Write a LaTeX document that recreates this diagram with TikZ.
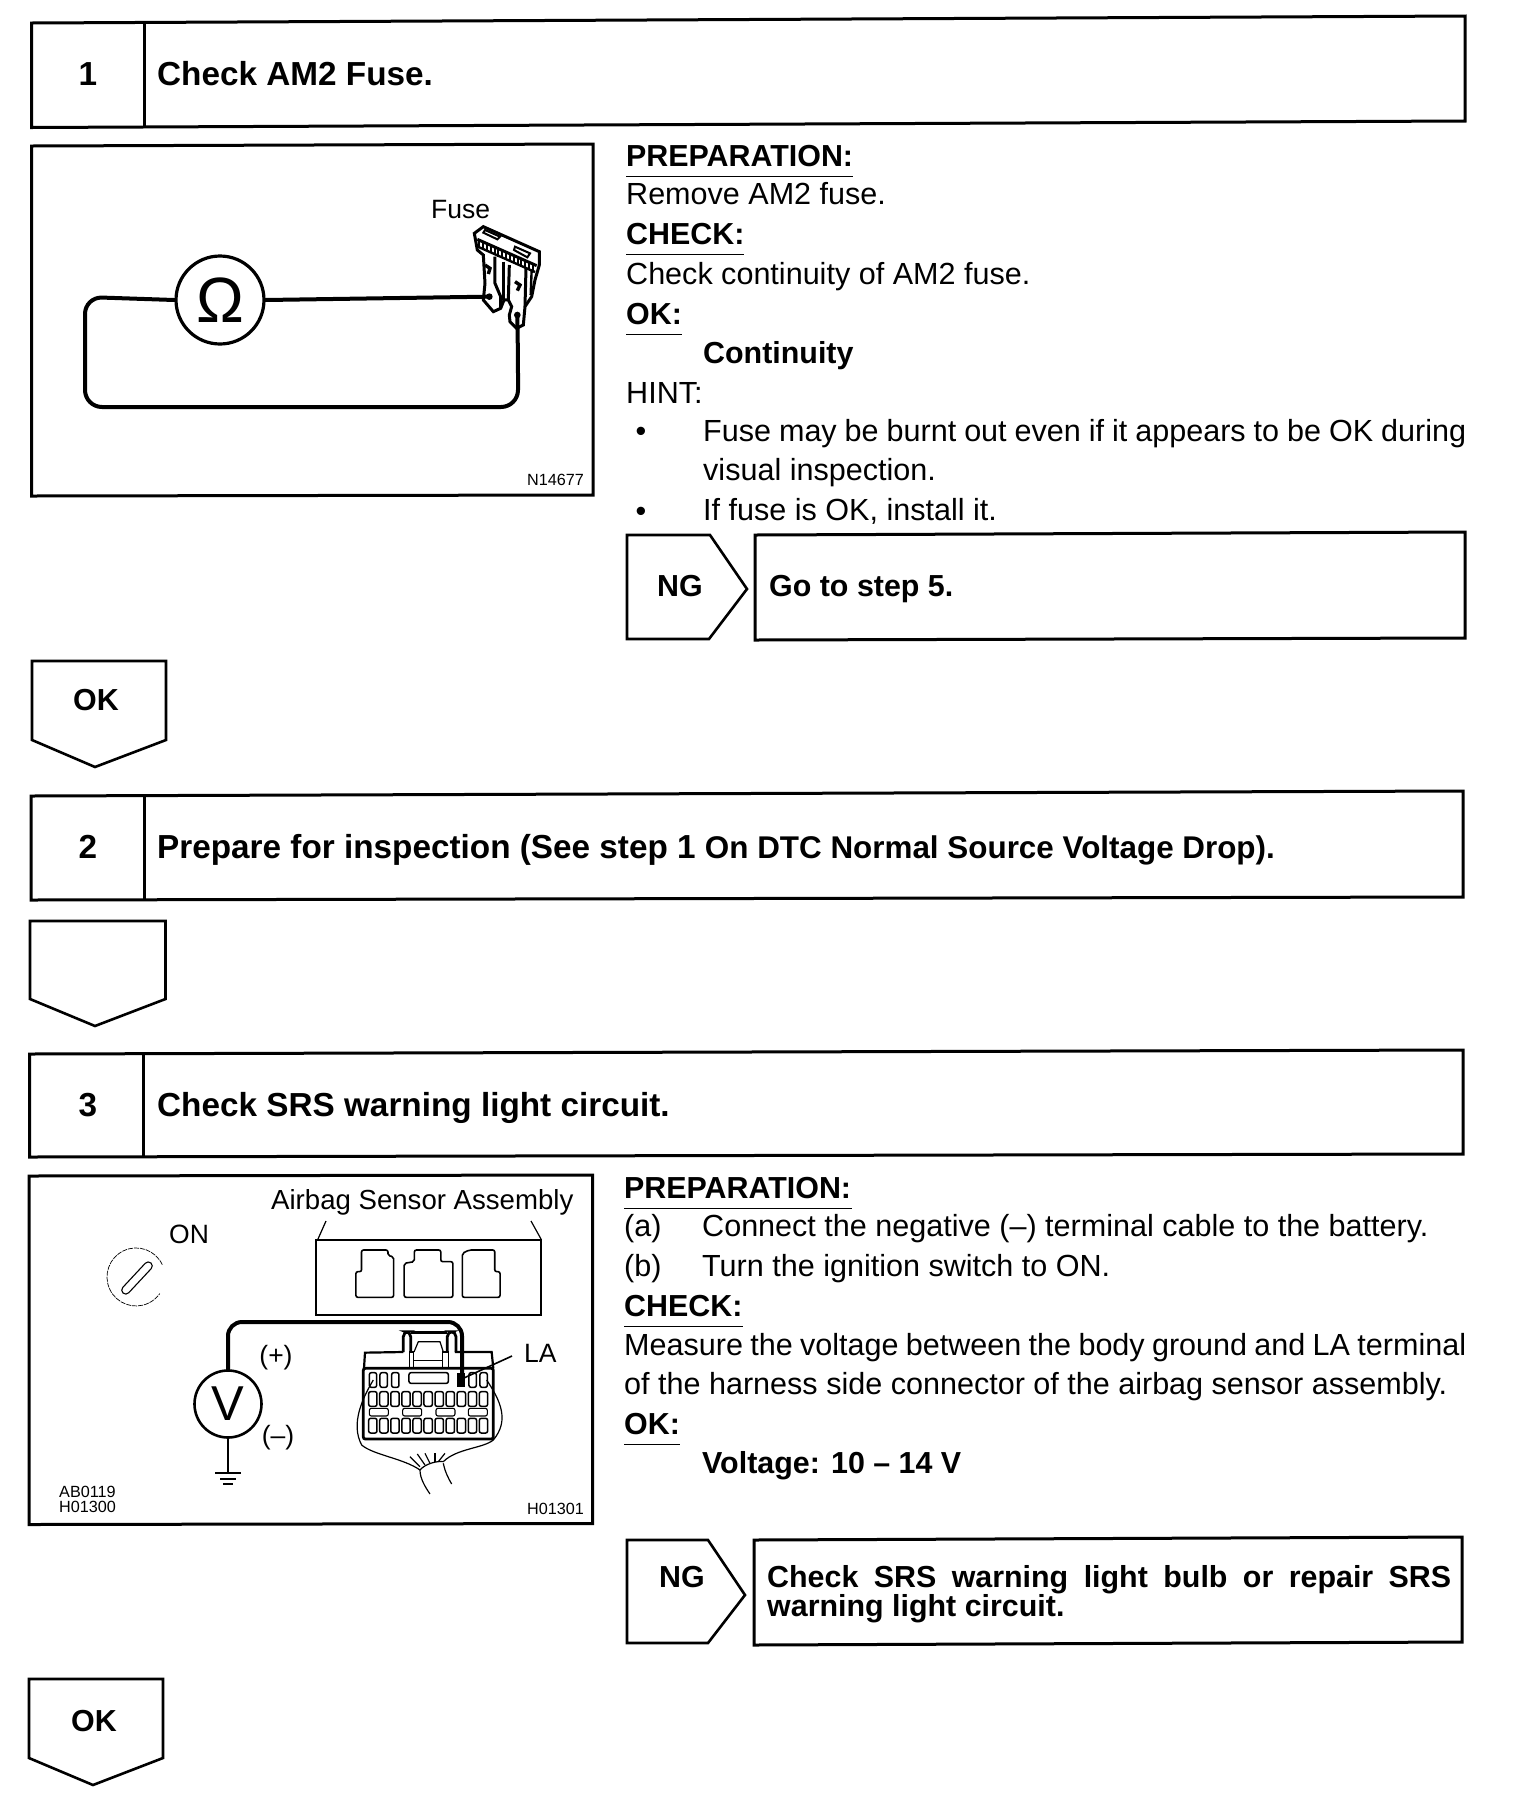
\documentclass[tikz,border=0pt]{standalone}
\usepackage{fontspec}
\setmainfont{Liberation Sans}
\begin{document}
\begin{tikzpicture}[x=1pt, y=-1pt, line join=miter,
  every node/.style={inner sep=0pt, anchor=base west, text=black},
  bodytext/.style={font=\fontsize{30.55}{39.5}\selectfont},
  boldtext/.style={font=\fontsize{30.4}{39.5}\selectfont\bfseries},
  headtext/.style={font=\fontsize{33.3}{40}\selectfont\bfseries},
  smalltext/.style={font=\fontsize{16.2}{15}\selectfont},
  figtext/.style={font=\fontsize{26.5}{30}\selectfont},
  frame/.style={draw, line width=3pt},
  tagbox/.style={draw, line width=2.6pt},
  wire/.style={draw, line width=4pt, line cap=round},
  thinline/.style={draw, line width=1.2pt},
  cell/.style={draw, line width=1.5pt, rounded corners=2pt}]
  \useasboundingbox (0,0) rectangle (1520,1808);
  % step 1
  \draw[frame] (31.5,23) -- (1465,16) -- (1465,121) -- (31.5,127.5) -- cycle;
  \draw[frame] (144,22.5) -- (144,127);
  \node[headtext, anchor=base] (num1) at (88,85) {1};
  \node[headtext] (head1) at (157,85) {Check AM2 Fuse.};
  % figure of step 1
  \draw[frame] (31.5,146) -- (593,144) -- (593,495) -- (31.5,496) -- cycle;
  \node[circle, draw, line width=3.2pt, minimum size=88pt, anchor=center,
    font=\fontsize{64}{64}\selectfont] (ohm) at (220,300) {Ω};
  \node[figtext] (fuselab) at (431,218) {Fuse};
  \node[smalltext] (fig1id) at (527,485) {N14677};
  \begin{scope}[shift={(440,200)}, x=0.3333pt, y=-0.3333pt]
    \coordinate (fusea) at (148,290);
    \coordinate (fuseb) at (232,345);
    \draw[line width=3pt, fill=white] (103,100) -- (130,80) -- (298,155) -- (298,195)
      -- (285,240) -- (275,290) -- (255,320) -- (250,375) -- (230,385) -- (210,365)
      -- (208,345) -- (215,320) -- (205,300) -- (192,300) -- (182,325) -- (160,335)
      -- (130,300) -- (135,250) -- (130,165) -- (112,150) -- cycle;
    \draw[line width=3pt] (112,118) -- (290,197);
    \draw[line width=2.4pt] (118,142) -- (285,216);
    \foreach \i in {0,...,14} {
      \draw[line width=2pt] (118+11.5*\i,122+5.1*\i) -- (118+11.5*\i,144+5.1*\i);
    }
    \draw[line width=2pt] (135,90) -- (180,110) -- (172,118) -- (130,98) -- cycle;
    \draw[line width=2pt] (225,140) -- (270,160) -- (262,172) -- (222,150) -- cycle;
    \draw[line width=3pt] (165,170) -- (165,250) -- (182,290) -- (182,325);
    \draw[line width=3pt] (192,185) -- (192,300);
    \draw[line width=3pt] (208,195) -- (205,300);
    \draw[line width=3pt] (258,205) -- (255,320);
    \draw[line width=2.4pt] (275,210) -- (272,285);
    \draw[line width=3.4pt] (135,195) -- (150,205) -- (145,222);
    \draw[line width=3.4pt] (225,245) -- (240,255) -- (232,272);
    \fill (fusea) circle (10);
    \fill (fuseb) circle (10);
  \end{scope}
  \draw[wire] (ohm.east) -- (fusea);
  \draw[wire, rounded corners=17pt] (ohm.west) -- (85,297) -- (85,407) -- (518,407) -- (518,360) -- (fuseb);
  % text of step 1
  \node[boldtext] (prep1) at (626,166) {PREPARATION:};
  \node[bodytext] (rem1) at (626,204) {Remove AM2 fuse.};
  \node[boldtext] (chk1) at (626,244) {CHECK:};
  \node[bodytext] (chktxt1) at (626,284) {Check continuity of AM2 fuse.};
  \node[boldtext] (ok1) at (626,324) {OK:};
  \node[boldtext] (cont1) at (703,363) {Continuity};
  \node[bodytext] (hint1) at (626,403) {HINT:};
  \node[bodytext, anchor=base] (bul1) at (641,441) {•};
  \node[bodytext, anchor=base] (bul2) at (641,521) {•};
  \node[bodytext, text width=763pt, align=justify, anchor=north west] (hinta) at (703,419)
    {Fuse may be burnt out even if it appears to be OK during visual inspection.};
  \node[bodytext] (hintb) at (703,520) {If fuse is OK, install it.};
  \draw[line width=1pt] (prep1.base west) ++(0,10) -- ++(227,0);
  \draw[line width=1pt] (chk1.base west) ++(0,10) -- ++(118,0);
  \draw[line width=1pt] (ok1.base west) ++(0,10) -- ++(56,0);
  % NG of step 1
  \draw[tagbox] (627,535) -- (710,535) -- (747,589) -- (709,639) -- (627,639) -- cycle;
  \node[boldtext] (ng1) at (657,596) {NG};
  \draw[frame] (755,535) -- (1465,532) -- (1465,638) -- (755,640) -- cycle;
  \node[boldtext] (goto1) at (769,596) {Go to step 5.};
  % OK of step 1
  \draw[tagbox] (32,661) -- (166,661) -- (166,740) -- (95,767) -- (32,740) -- cycle;
  \node[boldtext] (oktag1) at (73,710) {OK};
  % step 2
  \draw[frame] (31,796) -- (1463,791) -- (1463,897) -- (31,900) -- cycle;
  \draw[frame] (144,796) -- (144,900);
  \node[headtext, anchor=base] (num2) at (88,858) {2};
  \node[headtext] (head2) at (157,858) {Prepare for inspection (See step 1
    {\fontsize{31.4}{40}\selectfont On DTC Normal Source Voltage Drop).}};
  \draw[tagbox] (30,921) -- (165.5,921) -- (165.5,999) -- (95,1026) -- (30,999) -- cycle;
  % step 3
  \draw[frame] (29.5,1054) -- (1463,1050) -- (1463,1154) -- (29.5,1157) -- cycle;
  \draw[frame] (143,1054) -- (143,1157);
  \node[headtext, anchor=base] (num3) at (88,1116) {3};
  \node[headtext] (head3) at (157,1116) {Check SRS warning light circuit.};
  % figure of step 3
  \draw[frame] (29,1176) -- (592.5,1175) -- (592.5,1523.5) -- (29,1524.5) -- cycle;
  \node[figtext, font=\fontsize{27.6}{30}\selectfont] (assy) at (271,1209) {Airbag Sensor Assembly};
  \node[figtext] (on) at (169,1243) {ON};
  \node[figtext] (la) at (524,1362) {LA};
  \node[figtext, anchor=base] (plus) at (276,1364) {(+)};
  \node[figtext, anchor=base] (minus) at (278,1444) {(–)};
  \node[smalltext, align=left, anchor=north west] (fig3ida) at (59,1486) {AB0119\\H01300};
  \node[smalltext] (fig3idb) at (527,1514) {H01301};
  \node[draw, line width=1.1pt, rounded corners=4pt, minimum width=41pt, minimum height=8pt,
    rotate=47, anchor=center] (keyslot) at (137,1278) {};
  \draw[line width=0.7pt, dash pattern=on 5pt off 1pt] (162.3,1264.7) arc[start angle=25, delta angle=300, radius=29pt];
  \draw[thinline, line width=1.6pt] (316,1240) rectangle (541,1315);
  \draw[thinline] (318,1239) -- (326,1221);
  \draw[thinline] (541,1239) -- (531,1221);
  \begin{scope}[shift={(20,1165)}, x=0.3774pt, y=-0.3333pt]
    \draw[line width=1.6pt, rounded corners=2pt] (890,397) -- (890,320) -- (905,320) -- (905,255)
      -- (975,255) -- (975,272) -- (990,275) -- (990,397) -- cycle;
    \draw[line width=1.6pt, rounded corners=2pt] (1018,397) -- (1018,295) -- (1045,290) -- (1045,255)
      -- (1115,255) -- (1115,290) -- (1147,290) -- (1147,397) -- cycle;
    \draw[line width=1.6pt, rounded corners=2pt] (1172,397) -- (1172,265) -- (1190,255) -- (1258,255)
      -- (1258,320) -- (1272,320) -- (1272,397) -- cycle;
  \end{scope}
  \node[circle, draw, line width=2.6pt, minimum size=67pt, anchor=center,
    font=\fontsize{49}{49}\selectfont] (vm) at (228,1404) {V};
  \coordinate (gnd) at (228,1473);
  \draw[line width=2.6pt] (vm.south) -- (gnd);
  \draw[line width=2.2pt] (215,1473) -- (241,1473);
  \draw[line width=1.6pt] (220,1479) -- (236,1479);
  \draw[line width=1.6pt] (223,1484) -- (233,1484);
  % connector of the harness side
  \begin{scope}[shift={(330,1290)}, x=0.3333pt, y=-0.3333pt]
    \coordinate (laterm) at (393,268);
    \draw[line width=2.8pt, rounded corners=2pt] (100,235) rectangle (490,447);
    \draw[line width=2.2pt] (102,235) -- (105,188) -- (220,186);
    \draw[line width=2.2pt] (375,186) -- (485,186) -- (490,235);
    \draw[line width=2.8pt, rounded corners=5pt] (220,186) -- (220,125) -- (242,125) -- (242,186);
    \draw[line width=2.8pt, rounded corners=5pt] (352,186) -- (352,125) -- (378,125) -- (378,186);
    \draw[line width=2.8pt] (242,127) -- (352,127);
    \draw[line width=1.2pt] (238,186) rectangle (250,232);
    \draw[line width=1.2pt] (338,186) rectangle (356,232);
    \draw[line width=1.2pt] (252,186) -- (265,155) -- (330,155) -- (340,186);
    \draw[line width=1pt] (252,212) -- (338,212);
    \foreach \cx in {118,150,185,417,450} {
      \draw[cell] (\cx,248) rectangle +(22,44);
    }
    \draw[cell] (237,248) rectangle (355,280);
    \fill (382,250) rectangle (405,290);
    \foreach \cy in {305,385} {
      \foreach \i in {0,...,10} {
        \draw[cell] (116+33.2*\i,\cy) rectangle +(25,44);
      }
    }
    \foreach \cx in {118,218,318,415} {
      \draw[cell, line width=1.1pt] (\cx,355) rectangle +(57,23);
    }
    \draw[thinline] (130,270) .. controls (100,320) and (60,400) .. (95,465)
      .. controls (130,495) and (220,505) .. (270,540);
    \draw[thinline] (470,270) .. controls (510,330) and (540,390) .. (490,450)
      .. controls (460,475) and (380,475) .. (340,515);
    \draw[thinline] (270,540) .. controls (285,522) and (320,512) .. (340,515);
    \draw[thinline] (270,540) .. controls (270,565) and (285,590) .. (300,612);
    \draw[thinline] (340,520) .. controls (345,545) and (355,565) .. (365,582);
    \foreach \hx/\hy/\ex/\ey in {240/500/270/530, 262/492/285/525, 285/490/300/520, 315/490/315/517, 345/490/325/515} {
      \draw[thinline] (\hx,\hy) -- (\ex,\ey);
    }
  \end{scope}
  \coordinate (lalead) at (512,1356);
  \draw[thinline, line width=1.6pt] (lalead) -- (laterm);
  \draw[wire, rounded corners=14pt] (vm.north) -- (228,1322) -- (462,1322) -- (462,1378);
  % text of step 3
  \node[boldtext] (prep3) at (624,1198) {PREPARATION:};
  \node[bodytext] (itema) at (624,1236) {(a)};
  \node[bodytext] (itemat) at (702,1236) {Connect the negative (–) terminal cable to the battery.};
  \node[bodytext] (itemb) at (624,1276) {(b)};
  \node[bodytext] (itembt) at (702,1276) {Turn the ignition switch to ON.};
  \node[boldtext] (chk3) at (624,1316) {CHECK:};
  \node[bodytext, text width=842pt, align=justify, anchor=north west] (chktxt3) at (624,1333)
    {Measure the voltage between the body ground and LA terminal of the harness side connector of the airbag sensor assembly.};
  \node[boldtext] (ok3) at (624,1434) {OK:};
  \node[boldtext] (volt3) at (702,1473) {Voltage: 10 – 14 V};
  \draw[line width=1pt] (prep3.base west) ++(0,10) -- ++(228,0);
  \draw[line width=1pt] (chk3.base west) ++(0,10) -- ++(119,0);
  \draw[line width=1pt] (ok3.base west) ++(0,10) -- ++(56,0);
  % NG of step 3
  \draw[tagbox] (627,1540) -- (708,1540) -- (745,1595) -- (708,1643) -- (627,1643) -- cycle;
  \node[boldtext] (ng3) at (659,1587) {NG};
  \draw[frame] (754,1540) -- (1462,1537) -- (1462,1642) -- (754,1645) -- cycle;
  \node[boldtext, text width=684pt, align=justify, anchor=north west,
    font=\fontsize{30.4}{29.5}\selectfont\bfseries] (ngtxt3) at (767,1565)
    {Check SRS warning light bulb or repair SRS warning light circuit.};
  % OK of step 3
  \draw[tagbox] (29,1679) -- (163,1679) -- (163,1758) -- (93,1785) -- (29,1758) -- cycle;
  \node[boldtext] (oktag3) at (71,1731) {OK};
\end{tikzpicture}
\end{document}
